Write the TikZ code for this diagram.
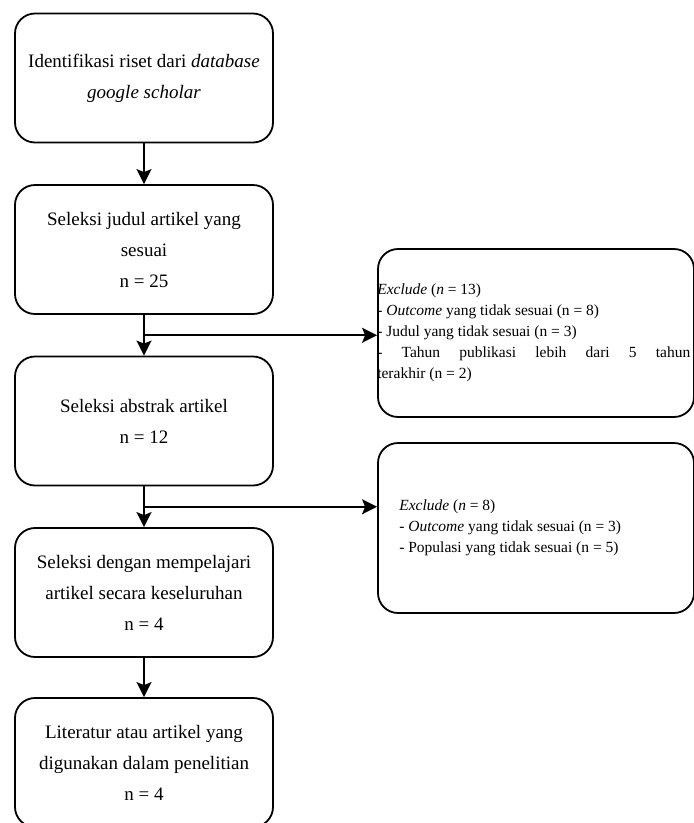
\documentclass[tikz,border=0pt]{standalone}
\usepackage{fontspec}
\setmainfont{Liberation Serif}
\usetikzlibrary{arrows.meta,calc}

\begin{document}
\begin{tikzpicture}[x=1pt, y=-1pt,
	kotak/.style = {draw, rounded corners=20pt, line width=1.8pt, minimum width=258pt, minimum height=129pt, align=center, font=\fontsize{19}{31}\selectfont},
	keluar/.style = {draw, rounded corners=20pt, line width=1.8pt, minimum width=316pt, inner sep=0pt},
	isi/.style = {align=left, inner sep=0pt, font=\fontsize{15.5}{21}\selectfont},
	panah/.style = {-{Stealth[length=15pt, width=15pt, inset=3pt]}, line width=1.8pt}]
		\useasboundingbox (0,0) rectangle (694,823);
		% Kotak utama
		\node[kotak] (identifikasi) at (144,78) {Identifikasi riset dari \textit{database}\\ \textit{google scholar}};
		\node[kotak] (judul) at (144,249.5) {Seleksi judul artikel yang\\ sesuai\\ n = 25};
		\node[kotak] (abstrak) at (144,421) {Seleksi abstrak artikel\\ n = 12};
		\node[kotak] (keseluruhan) at (144,592.5) {Seleksi dengan mempelajari\\ artikel secara keseluruhan\\ n = 4};
		\node[kotak] (literatur) at (144,762.5) {Literatur atau artikel yang\\ digunakan dalam penelitian\\ n = 4};
		% Kotak exclude
		\node[keluar, minimum height=168pt] (excl1) at (536,333) {};
		\node[isi, anchor=west] (teks1) at (excl1.west) {\textit{Exclude} (\textit{n} = 13)\\ - \textit{Outcome} yang tidak sesuai (n = 8)\\ - Judul yang tidak sesuai (n = 3)\\ \makebox[313pt][s]{- Tahun publikasi lebih dari 5 tahun}\\ terakhir (n = 2)};
		\node[keluar, minimum height=170pt] (excl2) at (536,528) {};
		\node[isi, anchor=west] (teks2) at ([xshift=22pt]excl2.west) {\textit{Exclude} (\textit{n} = 8)\\ - \textit{Outcome} yang tidak sesuai (n = 3)\\ - Populasi yang tidak sesuai (n = 5)};
		% Panah
		\draw[panah] (identifikasi) -- (judul);
		\draw[panah] (judul) -- (abstrak);
		\draw[panah] (abstrak) -- (keseluruhan);
		\draw[panah] (keseluruhan) -- (literatur);
		\coordinate (cabang1) at ($(judul.south)!0.5!(abstrak.north)$);
		\coordinate (cabang2) at ($(abstrak.south)!0.5!(keseluruhan.north)$);
		\draw[panah] (cabang1) -- (cabang1 -| excl1.west);
		\draw[panah] (cabang2) -- (cabang2 -| excl2.west);
\end{tikzpicture}
\end{document}
